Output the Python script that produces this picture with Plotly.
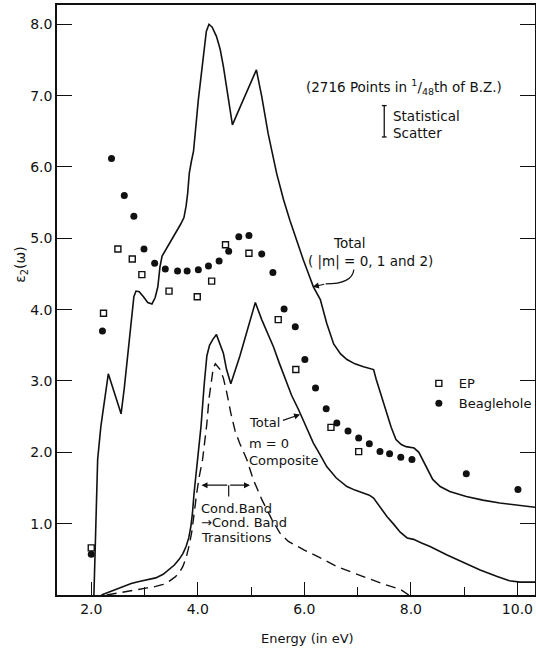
import plotly.graph_objects as go

# ---------------- data ----------------
total_E = [2.05, 2.07, 2.10, 2.12, 2.18, 2.24, 2.32, 2.44, 2.56, 2.62, 2.68, 2.76, 2.80, 2.84, 2.90,
           2.98, 3.06, 3.14, 3.20, 3.25, 3.29, 3.33, 3.40, 3.50, 3.60, 3.68, 3.74, 3.78, 3.81, 3.84,
           3.88, 3.92, 4.01, 4.10, 4.16, 4.21, 4.27, 4.35, 4.42, 4.48, 4.57, 4.65, 4.80, 4.95, 5.10,
           5.20, 5.32, 5.48, 5.61, 5.73, 5.85, 5.98, 6.08, 6.17, 6.30, 6.42, 6.55, 6.68, 6.80, 6.95,
           7.11, 7.22, 7.30, 7.35, 7.45, 7.54, 7.63, 7.72, 7.82, 7.91, 8.06, 8.15, 8.22, 8.30, 8.41,
           8.55, 8.73, 9.04, 9.35, 9.67, 10.0, 10.34]
total_V = [0.0, 0.5, 1.43, 1.9, 2.36, 2.67, 3.10, 2.82, 2.54, 2.9, 3.30, 3.86, 4.18, 4.26, 4.25,
           4.18, 4.10, 4.08, 4.17, 4.32, 4.60, 4.75, 4.84, 4.95, 5.08, 5.20, 5.29, 5.45, 5.63, 5.91,
           6.08, 6.22, 6.94, 7.55, 7.90, 8.0, 7.96, 7.83, 7.65, 7.41, 6.94, 6.59, 6.85, 7.10, 7.36,
           6.99, 6.47, 5.91, 5.54, 5.25, 4.98, 4.70, 4.50, 4.32, 4.14, 3.81, 3.52, 3.38, 3.30, 3.24,
           3.20, 3.18, 3.16, 3.02, 2.78, 2.55, 2.35, 2.18, 2.11, 2.08, 2.06, 2.00, 1.90, 1.78, 1.62,
           1.52, 1.45, 1.38, 1.33, 1.29, 1.26, 1.23]

m0_E = [2.19, 2.40, 2.59, 2.75, 2.90, 3.05, 3.21, 3.35, 3.46, 3.56, 3.65, 3.72, 3.78, 3.83, 3.87,
        3.90, 3.93, 3.97, 4.00, 4.06, 4.12, 4.17, 4.22, 4.28, 4.35, 4.42, 4.48, 4.54, 4.62, 4.79,
        4.99, 5.08, 5.20, 5.31, 5.42, 5.53, 5.64, 5.76, 5.89, 6.03, 6.17, 6.30, 6.42, 6.60, 6.80,
        6.95, 7.11, 7.22, 7.30, 7.42, 7.55, 7.68, 7.80, 7.93, 8.05, 8.20, 8.36, 8.68, 8.99, 9.30,
        9.62, 9.85, 10.05, 10.34]
m0_V = [0.0, 0.06, 0.12, 0.16, 0.19, 0.21, 0.24, 0.29, 0.36, 0.42, 0.50, 0.58, 0.68, 0.80, 0.96,
        1.15, 1.43, 1.70, 1.90, 2.36, 2.95, 3.35, 3.50, 3.58, 3.65, 3.52, 3.39, 3.16, 2.96, 3.35,
        3.86, 4.10, 3.86, 3.67, 3.48, 3.25, 3.02, 2.80, 2.60, 2.36, 2.13, 1.96, 1.80, 1.64, 1.52,
        1.47, 1.43, 1.40, 1.36, 1.23, 1.10, 0.99, 0.88, 0.80, 0.78, 0.73, 0.68, 0.56, 0.45, 0.35,
        0.26, 0.20, 0.18, 0.18]

cb_E = [2.29, 2.50, 2.70, 2.90, 3.05, 3.21, 3.35, 3.46, 3.57, 3.65, 3.72, 3.78, 3.84, 3.89, 3.93,
        3.98, 4.03, 4.09, 4.13, 4.17, 4.21, 4.26, 4.29, 4.33, 4.42, 4.48, 4.54, 4.62, 4.70, 4.79,
        4.92, 5.04, 5.20, 5.39, 5.54, 5.70, 5.86, 6.00, 6.30, 6.61, 6.92, 7.23, 7.50, 7.80, 7.96]
cb_V = [0.0, 0.03, 0.06, 0.08, 0.10, 0.12, 0.15, 0.19, 0.25, 0.31, 0.40, 0.52, 0.70, 0.90, 1.15,
        1.43, 1.67, 1.90, 2.15, 2.40, 2.75, 3.06, 3.18, 3.24, 3.16, 3.04, 2.85, 2.55, 2.30, 2.12,
        1.90, 1.62, 1.34, 1.06, 0.87, 0.75, 0.68, 0.63, 0.52, 0.40, 0.31, 0.22, 0.15, 0.08, 0.0]

ep_E = [2.00, 2.23, 2.50, 2.77, 2.95, 3.46, 3.99, 4.26, 4.52, 4.96, 5.51, 5.84, 6.50, 7.02]
ep_V = [0.66, 3.95, 4.85, 4.71, 4.49, 4.26, 4.18, 4.40, 4.91, 4.79, 3.86, 3.16, 2.35, 2.01]

bh_E = [2.00, 2.21, 2.38, 2.62, 2.80, 2.99, 3.19, 3.39, 3.62, 3.80, 4.01, 4.20, 4.40, 4.58, 4.77,
        4.96, 5.20, 5.41, 5.62, 5.83, 6.01, 6.21, 6.41, 6.61, 6.82, 7.02, 7.22, 7.42, 7.60, 7.81,
        8.02, 9.04, 10.01]
bh_V = [0.57, 3.70, 6.12, 5.60, 5.31, 4.85, 4.65, 4.57, 4.54, 4.54, 4.56, 4.61, 4.68, 4.82, 5.02,
        5.04, 4.78, 4.52, 4.01, 3.76, 3.30, 2.90, 2.61, 2.41, 2.30, 2.20, 2.12, 2.01, 1.98, 1.93,
        1.90, 1.70, 1.48]

x_ticks = [2, 4, 6, 8, 10]
x_ticktext = ["2.0", "4.0", "6.0", "8.0", "10.0"]
x_minor = [3, 5, 7, 9]
y_ticks = [1, 2, 3, 4, 5, 6, 7, 8]
y_ticktext = ["1.0", "2.0", "3.0", "4.0", "5.0", "6.0", "7.0", "8.0"]

INK = "#111111"
FONT = "DejaVu Sans"

fig = go.Figure()
fig.add_trace(go.Scatter(x=total_E, y=total_V, mode="lines", line=dict(color=INK, width=1.6),
                         showlegend=False, hoverinfo="skip"))
fig.add_trace(go.Scatter(x=m0_E, y=m0_V, mode="lines", line=dict(color=INK, width=1.6),
                         showlegend=False, hoverinfo="skip"))
fig.add_trace(go.Scatter(x=cb_E, y=cb_V, mode="lines", line=dict(color=INK, width=1.4, dash="10px,6px"),
                         showlegend=False, hoverinfo="skip"))
fig.add_trace(go.Scatter(x=ep_E, y=ep_V, mode="markers", name="EP",
                         marker=dict(symbol="square-open", size=6, color=INK, line=dict(width=1.4, color=INK))))
fig.add_trace(go.Scatter(x=bh_E, y=bh_V, mode="markers", name="Beaglehole",
                         marker=dict(symbol="circle", size=7, color=INK)))

fig.update_layout(
    width=536, height=648,
    margin=dict(l=57, r=1, t=5, b=53, autoexpand=False),
    plot_bgcolor="white", paper_bgcolor="white",
    font=dict(family=FONT, color=INK, size=13),
    legend=dict(x=0.757, y=0.384, xanchor="left", yanchor="top", bgcolor="rgba(0,0,0,0)",
                font=dict(size=13, family=FONT, color=INK), tracegroupgap=0),
)
fig.update_xaxes(range=[1.357, 10.33], tickvals=x_ticks, ticktext=x_ticktext,
                 ticks="inside", ticklen=13, tickwidth=1.3, tickcolor=INK,
                 showline=True, linecolor=INK, linewidth=1.5, mirror=True,
                 showgrid=False, zeroline=False, tickfont=dict(size=14, family=FONT, color=INK),
                 minor=dict(tickvals=x_minor, ticks="inside", ticklen=8, tickwidth=1.2, tickcolor=INK))
fig.update_yaxes(range=[0, 8.27], tickvals=y_ticks, ticktext=y_ticktext,
                 ticks="inside", ticklen=15, tickwidth=1.3, tickcolor=INK,
                 showline=True, linecolor=INK, linewidth=1.5, mirror="ticks",
                 showgrid=False, zeroline=False, tickfont=dict(size=14, family=FONT, color=INK))

ann = []
def txt(x, y, s, size=13, xanchor="left", xref="x", yref="y", **kw):
    ann.append(dict(x=x, y=y, xref=xref, yref=yref, text=s, showarrow=False, xanchor=xanchor,
                    yanchor="middle", font=dict(size=size, family=FONT, color=INK), **kw))

txt(7.87, 7.12, "(2716 Points in <sup>1</sup>/<sub>48</sub>th of B.Z.)", size=13.5, xanchor="center")
txt(7.62, 6.72, "Statistical", size=13.5)
txt(7.62, 6.48, "Scatter", size=13.5)
txt(6.84, 4.94, "Total", size=13.5, xanchor="center")
txt(7.24, 4.67, "( |m| = 0, 1 and 2)", size=13.5, xanchor="center")
txt(4.92, 2.42, "Total", size=13)
txt(4.92, 2.13, "m = 0", size=13)
txt(4.92, 1.88, "Composite", size=13)
txt(4.02, 1.21, "Cond.Band", size=13)
txt(4.02, 1.01, "\u2192Cond. Band", size=13)
txt(4.02, 0.80, "Transitions", size=13)
# axis titles
txt(0.525, -0.074, "Energy (in eV)", size=13, xanchor="center", xref="paper", yref="paper")
txt(-0.077, 0.56, "\u03b5<sub>2</sub>(\u03c9)", size=14, xanchor="center", xref="paper", yref="paper",
    textangle=-90)

# arrows
ann.append(dict(x=6.16, y=4.32, ax=6.40, ay=4.36, xref="x", yref="y", axref="x", ayref="y",
                showarrow=True, arrowhead=2, arrowsize=1, arrowwidth=1.2, arrowcolor=INK, text=""))
ann.append(dict(x=5.92, y=2.53, ax=5.57, ay=2.44, xref="x", yref="y", axref="x", ayref="y",
                showarrow=True, arrowhead=2, arrowsize=1, arrowwidth=1.2, arrowcolor=INK, text=""))
ann.append(dict(x=4.07, y=1.54, ax=4.58, ay=1.54, xref="x", yref="y", axref="x", ayref="y",
                showarrow=True, arrowhead=2, arrowsize=1, arrowwidth=1.2, arrowcolor=INK, text=""))
ann.append(dict(x=4.98, y=1.54, ax=4.58, ay=1.54, xref="x", yref="y", axref="x", ayref="y",
                showarrow=True, arrowhead=2, arrowsize=1, arrowwidth=1.2, arrowcolor=INK, text=""))
fig.update_layout(annotations=ann)

shapes = [
    # curved leader for upper "Total"
    dict(type="path", path="M 6.93,4.56 Q 6.90,4.36 6.40,4.36", xref="x", yref="y",
         line=dict(color=INK, width=1.2)),
    # tick under double arrow
    dict(type="line", x0=4.58, x1=4.58, y0=1.54, y1=1.38, xref="x", yref="y", line=dict(color=INK, width=1.2)),
    # statistical scatter bar
    dict(type="line", x0=7.50, x1=7.50, y0=6.42, y1=6.86, xref="x", yref="y", line=dict(color=INK, width=1.3)),
    dict(type="line", x0=7.455, x1=7.545, y0=6.86, y1=6.86, xref="x", yref="y", line=dict(color=INK, width=1.3)),
    dict(type="line", x0=7.455, x1=7.545, y0=6.42, y1=6.42, xref="x", yref="y", line=dict(color=INK, width=1.3)),
]
fig.update_layout(shapes=shapes)

fig.write_html("out.html", config={"displayModeBar": False},
               post_script="document.body.style.margin='0px';document.body.style.padding='0px';")
